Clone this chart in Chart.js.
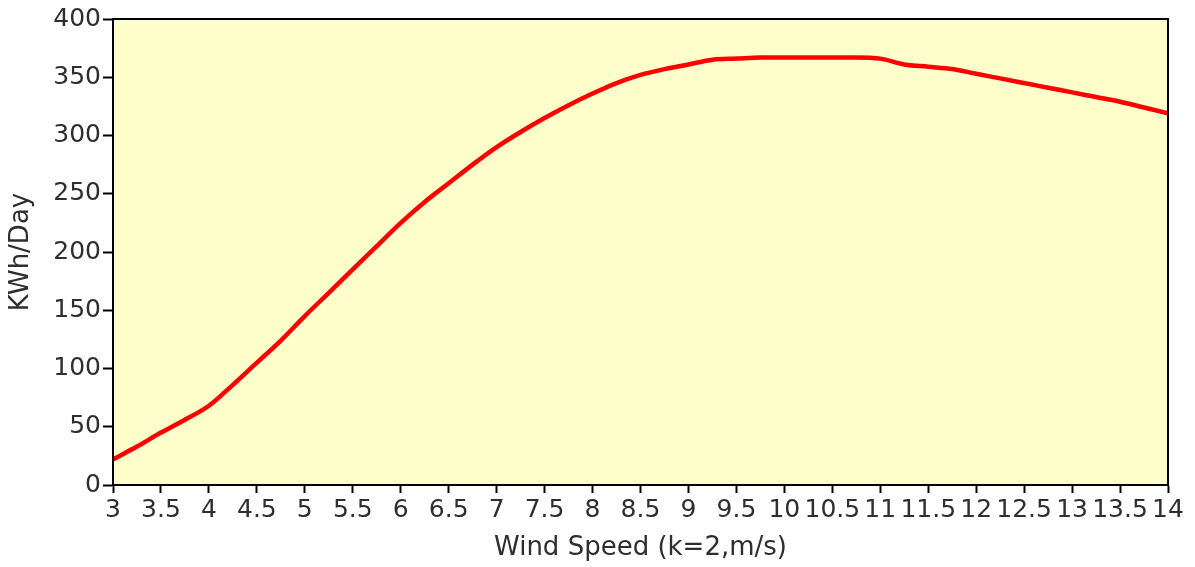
<!DOCTYPE html>
<html>
<head>
<meta charset="utf-8">
<script src="https://cdn.jsdelivr.net/npm/chart.js@4.4.0/dist/chart.umd.min.js"></script>
<style>
  body { margin: 0; background: #fff; }
</style>
</head>
<body>
<canvas id="myChart" width="1195" height="567"></canvas>
<script>
// wind speed (m/s) and daily energy (KWh/Day)
var windSpeed = [3, 3.25, 3.5, 3.75, 4, 4.25, 4.5, 4.75, 5, 5.25, 5.5, 5.75, 6, 6.25, 6.5, 6.75, 7, 7.25, 7.5, 7.75,
                 8, 8.25, 8.5, 8.75, 9, 9.25, 9.5, 9.75, 10, 10.25, 10.5, 10.75, 11, 11.25, 11.5, 11.75, 12, 12.25,
                 12.5, 12.75, 13, 13.25, 13.5, 13.75, 14];
var energy = [22, 33, 45, 56, 68, 86, 105, 124, 145, 165, 185, 205, 225, 243, 259, 275, 290, 303, 315, 326,
              336, 345, 352, 357, 361, 365, 366, 367, 367, 367, 367, 367, 366, 361, 359, 357, 353, 349,
              345, 341, 337, 333, 329, 324, 319];
var xTitle = 'Wind Speed (k=2,m/s)';
var yTitle = 'KWh/Day';

var tickFont = { family: 'DejaVu Sans', size: 25 };
var titleFont = { family: 'DejaVu Sans', size: 26 };

// pale yellow plot area with a black frame
var plotFrame = {
    id: 'plotFrame',
    beforeDatasetsDraw: function(chart) {
        var a = chart.chartArea, c = chart.ctx;
        c.save();
        c.fillStyle = '#FFFFCC';
        c.fillRect(a.left, a.top, a.right - a.left, a.bottom - a.top);
        c.restore();
    },
    afterDatasetsDraw: function(chart) {
        var a = chart.chartArea, c = chart.ctx;
        c.save();
        c.strokeStyle = '#000';
        c.lineWidth = 2;
        c.strokeRect(a.left, a.top, a.right - a.left, a.bottom - a.top);
        c.restore();
    }
};

var ctx = document.getElementById('myChart').getContext('2d');
var chart = new Chart(ctx, {
    type: 'line',
    data: {
        datasets: [{
            data: windSpeed.map(function(v, i) { return { x: v, y: energy[i] }; }),
            borderColor: '#FF0000',
            borderWidth: 4.5,
            pointRadius: 0,
            cubicInterpolationMode: 'monotone',
            fill: false
        }]
    },
    options: {
        responsive: false,
        animation: false,
        layout: { padding: { top: 19, right: 27, left: 0, bottom: 0 } },
        plugins: {
            legend: { display: false },
            tooltip: { enabled: false }
        },
        scales: {
            x: {
                type: 'linear',
                min: 3,
                max: 14,
                afterFit: function(s) { s.height = 82; },
                grid: { drawOnChartArea: false, color: '#000', tickLength: 8, tickWidth: 2 },
                border: { color: '#000', width: 2 },
                ticks: {
                    stepSize: 0.5,
                    autoSkip: false,
                    maxRotation: 0,
                    padding: 2,
                    color: '#2e2e2e',
                    font: tickFont,
                    callback: function(v) { return +v.toFixed(2) + ''; }
                },
                title: { display: true, text: xTitle, color: '#2e2e2e', font: titleFont, padding: { top: 0, bottom: 3 } }
            },
            y: {
                min: 0,
                max: 400,
                afterFit: function(s) { s.width = 113; },
                grid: { drawOnChartArea: false, color: '#000', tickLength: 10, tickWidth: 2 },
                border: { color: '#000', width: 2 },
                ticks: {
                    stepSize: 50,
                    padding: 2,
                    color: '#2e2e2e',
                    font: tickFont
                },
                title: { display: true, text: yTitle, color: '#2e2e2e', font: titleFont, padding: { top: 6, bottom: 0 } }
            }
        }
    },
    plugins: [plotFrame]
});
</script>
</body>
</html>
